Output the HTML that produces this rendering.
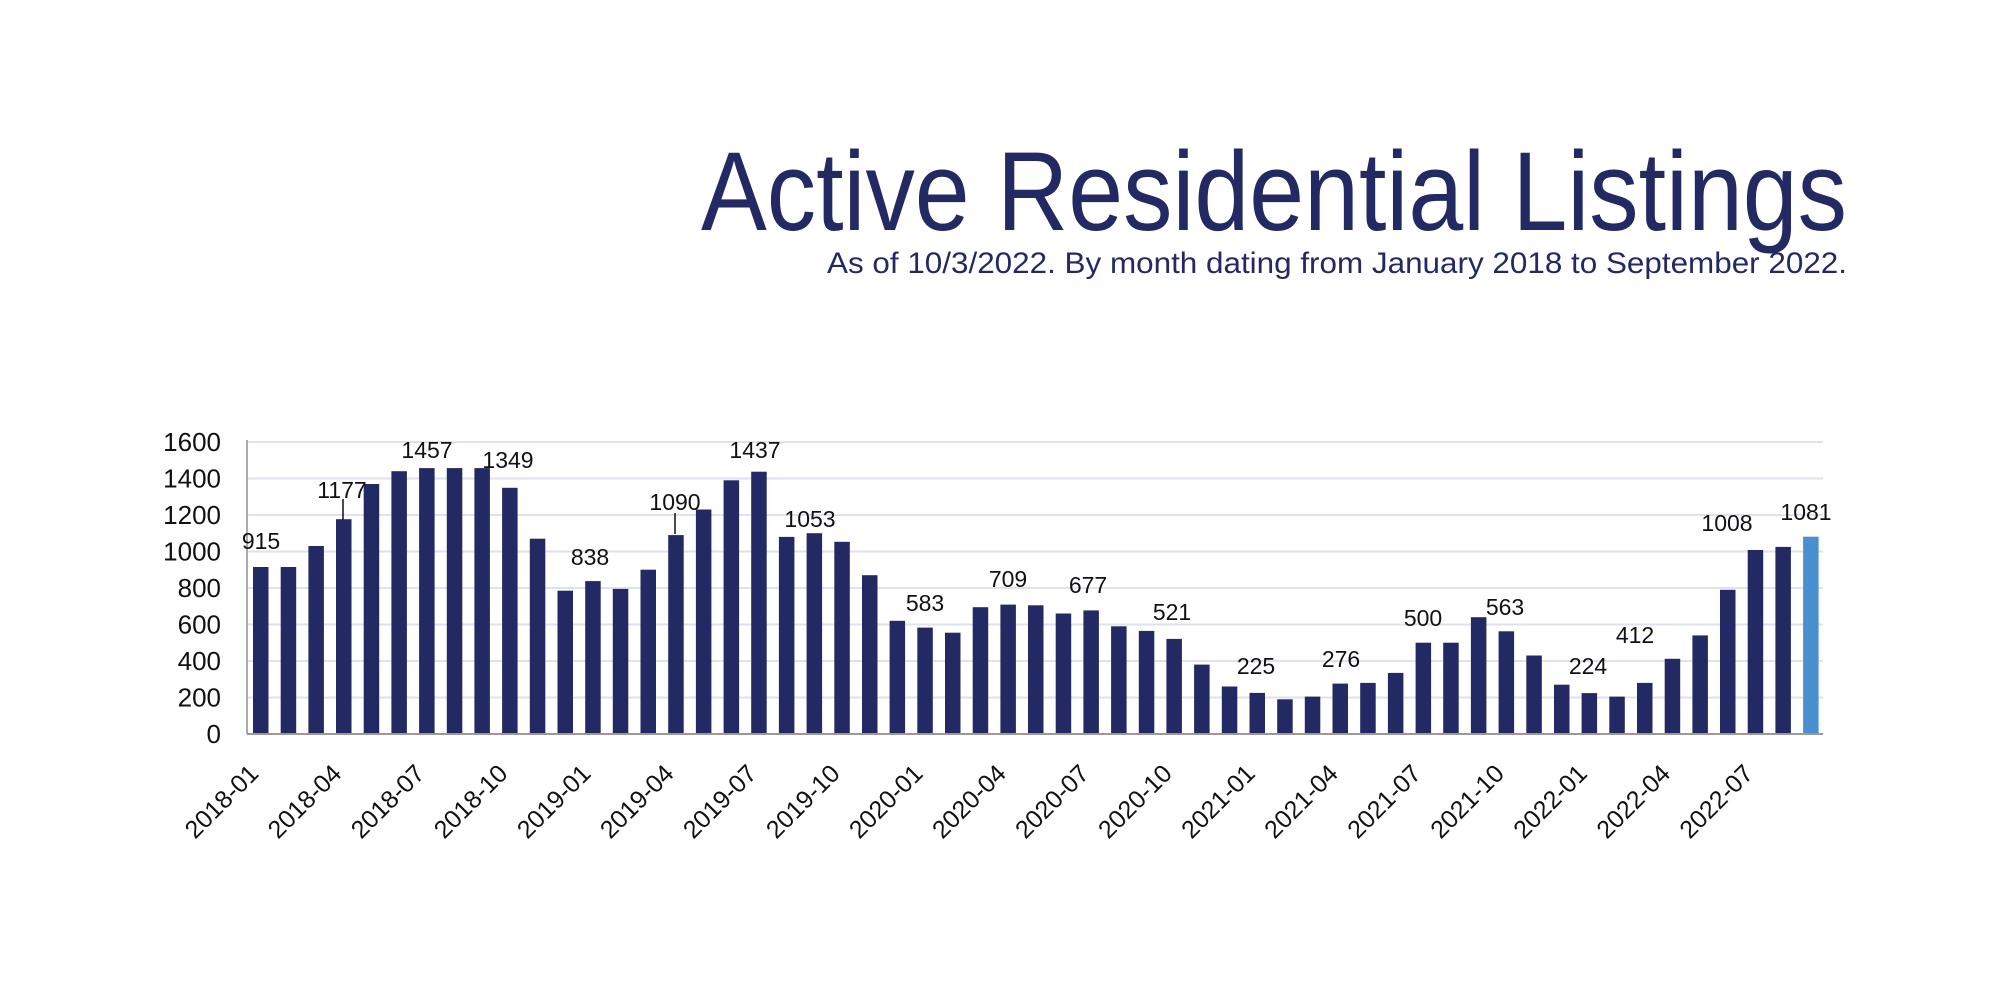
<!DOCTYPE html>
<html><head><meta charset="utf-8"><style>html,body{margin:0;padding:0;background:#fff;}svg{display:block}</style></head>
<body>
<svg width="2000" height="1000" xmlns="http://www.w3.org/2000/svg" font-family="Liberation Sans, Arial, sans-serif">
<rect width="2000" height="1000" fill="#fff"/>
<text x="1847" y="230" text-anchor="end" font-size="112" fill="#232a63" textLength="1146" lengthAdjust="spacingAndGlyphs">Active Residential Listings</text>
<text x="1847" y="273" text-anchor="end" font-size="30" fill="#232a63" textLength="1020" lengthAdjust="spacingAndGlyphs">As of 10/3/2022. By month dating from January 2018 to September 2022.</text>
<g stroke="#dde2ee" stroke-width="2">
<line x1="247" x2="1823" y1="697.5" y2="697.5"/><line x1="247" x2="1823" y1="661" y2="661"/><line x1="247" x2="1823" y1="624.5" y2="624.5"/><line x1="247" x2="1823" y1="588" y2="588"/><line x1="247" x2="1823" y1="551.5" y2="551.5"/><line x1="247" x2="1823" y1="515" y2="515"/><line x1="247" x2="1823" y1="478.5" y2="478.5"/><line x1="247" x2="1823" y1="442" y2="442"/>
</g>
<g font-size="26" fill="#111" text-anchor="end">
<text x="221" y="743">0</text><text x="221" y="706.5">200</text><text x="221" y="670">400</text><text x="221" y="633.5">600</text><text x="221" y="597">800</text><text x="221" y="560.5">1000</text><text x="221" y="524">1200</text><text x="221" y="487.5">1400</text><text x="221" y="451">1600</text>
</g>
<g fill="#232a63">
<rect x="253.0" y="567.0" width="15.5" height="167.0"/>
<rect x="280.7" y="567.0" width="15.5" height="167.0"/>
<rect x="308.4" y="546.0" width="15.5" height="188.0"/>
<rect x="336.0" y="519.2" width="15.5" height="214.8"/>
<rect x="363.7" y="484.0" width="15.5" height="250.0"/>
<rect x="391.4" y="471.2" width="15.5" height="262.8"/>
<rect x="419.1" y="468.1" width="15.5" height="265.9"/>
<rect x="446.8" y="468.1" width="15.5" height="265.9"/>
<rect x="474.4" y="468.1" width="15.5" height="265.9"/>
<rect x="502.1" y="487.8" width="15.5" height="246.2"/>
<rect x="529.8" y="538.7" width="15.5" height="195.3"/>
<rect x="557.5" y="590.7" width="15.5" height="143.3"/>
<rect x="585.2" y="581.1" width="15.5" height="152.9"/>
<rect x="612.8" y="588.9" width="15.5" height="145.1"/>
<rect x="640.5" y="569.7" width="15.5" height="164.3"/>
<rect x="668.2" y="535.1" width="15.5" height="198.9"/>
<rect x="695.9" y="509.5" width="15.5" height="224.5"/>
<rect x="723.6" y="480.3" width="15.5" height="253.7"/>
<rect x="751.2" y="471.7" width="15.5" height="262.3"/>
<rect x="778.9" y="536.9" width="15.5" height="197.1"/>
<rect x="806.6" y="533.2" width="15.5" height="200.8"/>
<rect x="834.3" y="541.8" width="15.5" height="192.2"/>
<rect x="862.0" y="575.2" width="15.5" height="158.8"/>
<rect x="889.6" y="620.8" width="15.5" height="113.2"/>
<rect x="917.3" y="627.6" width="15.5" height="106.4"/>
<rect x="945.0" y="632.7" width="15.5" height="101.3"/>
<rect x="972.7" y="607.2" width="15.5" height="126.8"/>
<rect x="1000.4" y="604.6" width="15.5" height="129.4"/>
<rect x="1028.0" y="605.3" width="15.5" height="128.7"/>
<rect x="1055.7" y="613.5" width="15.5" height="120.5"/>
<rect x="1083.4" y="610.4" width="15.5" height="123.6"/>
<rect x="1111.1" y="626.3" width="15.5" height="107.7"/>
<rect x="1138.8" y="630.9" width="15.5" height="103.1"/>
<rect x="1166.4" y="638.9" width="15.5" height="95.1"/>
<rect x="1194.1" y="664.6" width="15.5" height="69.4"/>
<rect x="1221.8" y="686.5" width="15.5" height="47.5"/>
<rect x="1249.5" y="692.9" width="15.5" height="41.1"/>
<rect x="1277.2" y="699.3" width="15.5" height="34.7"/>
<rect x="1304.8" y="696.6" width="15.5" height="37.4"/>
<rect x="1332.5" y="683.6" width="15.5" height="50.4"/>
<rect x="1360.2" y="682.9" width="15.5" height="51.1"/>
<rect x="1387.9" y="672.9" width="15.5" height="61.1"/>
<rect x="1415.6" y="642.7" width="15.5" height="91.3"/>
<rect x="1443.2" y="642.7" width="15.5" height="91.3"/>
<rect x="1470.9" y="617.2" width="15.5" height="116.8"/>
<rect x="1498.6" y="631.3" width="15.5" height="102.7"/>
<rect x="1526.3" y="655.5" width="15.5" height="78.5"/>
<rect x="1554.0" y="684.7" width="15.5" height="49.3"/>
<rect x="1581.6" y="693.1" width="15.5" height="40.9"/>
<rect x="1609.3" y="696.6" width="15.5" height="37.4"/>
<rect x="1637.0" y="682.9" width="15.5" height="51.1"/>
<rect x="1664.7" y="658.8" width="15.5" height="75.2"/>
<rect x="1692.4" y="635.4" width="15.5" height="98.6"/>
<rect x="1720.0" y="589.8" width="15.5" height="144.2"/>
<rect x="1747.7" y="550.0" width="15.5" height="184.0"/>
<rect x="1775.4" y="546.9" width="15.5" height="187.1"/>
</g>
<rect x="1803.1" y="536.7" width="15.5" height="197.3" fill="#4a8fd0"/>
<line x1="247" x2="247" y1="440" y2="734" stroke="#aaa" stroke-width="2"/>
<line x1="247" x2="1823" y1="734" y2="734" stroke="#999" stroke-width="2"/>
<g font-size="25" fill="#111" text-anchor="end">
<text transform="translate(260,775) rotate(-45)">2018-01</text>
<text transform="translate(343,775) rotate(-45)">2018-04</text>
<text transform="translate(426.1,775) rotate(-45)">2018-07</text>
<text transform="translate(509.1,775) rotate(-45)">2018-10</text>
<text transform="translate(592.2,775) rotate(-45)">2019-01</text>
<text transform="translate(675.2,775) rotate(-45)">2019-04</text>
<text transform="translate(758.2,775) rotate(-45)">2019-07</text>
<text transform="translate(841.3,775) rotate(-45)">2019-10</text>
<text transform="translate(924.3,775) rotate(-45)">2020-01</text>
<text transform="translate(1007.4,775) rotate(-45)">2020-04</text>
<text transform="translate(1090.4,775) rotate(-45)">2020-07</text>
<text transform="translate(1173.4,775) rotate(-45)">2020-10</text>
<text transform="translate(1256.5,775) rotate(-45)">2021-01</text>
<text transform="translate(1339.5,775) rotate(-45)">2021-04</text>
<text transform="translate(1422.6,775) rotate(-45)">2021-07</text>
<text transform="translate(1505.6,775) rotate(-45)">2021-10</text>
<text transform="translate(1588.6,775) rotate(-45)">2022-01</text>
<text transform="translate(1671.7,775) rotate(-45)">2022-04</text>
<text transform="translate(1754.7,775) rotate(-45)">2022-07</text>
</g>
<g font-size="23" fill="#111" text-anchor="middle">
<text x="261" y="549">915</text><text x="342" y="498">1177</text><text x="427" y="458">1457</text><text x="508" y="468">1349</text><text x="590" y="565">838</text><text x="675" y="510">1090</text><text x="755" y="458">1437</text><text x="810" y="527">1053</text><text x="925" y="611">583</text><text x="1008" y="587">709</text><text x="1088" y="593">677</text><text x="1172" y="620">521</text><text x="1256" y="674">225</text><text x="1341" y="667">276</text><text x="1423" y="626">500</text><text x="1505" y="615">563</text><text x="1588" y="674">224</text><text x="1635" y="643">412</text><text x="1727" y="531">1008</text><text x="1806" y="520">1081</text>
</g>
<line x1="343" x2="343" y1="499" y2="520" stroke="#111" stroke-width="1.5"/>
<line x1="675" x2="675" y1="513" y2="534" stroke="#111" stroke-width="1.5"/>
</svg>
</body></html>
